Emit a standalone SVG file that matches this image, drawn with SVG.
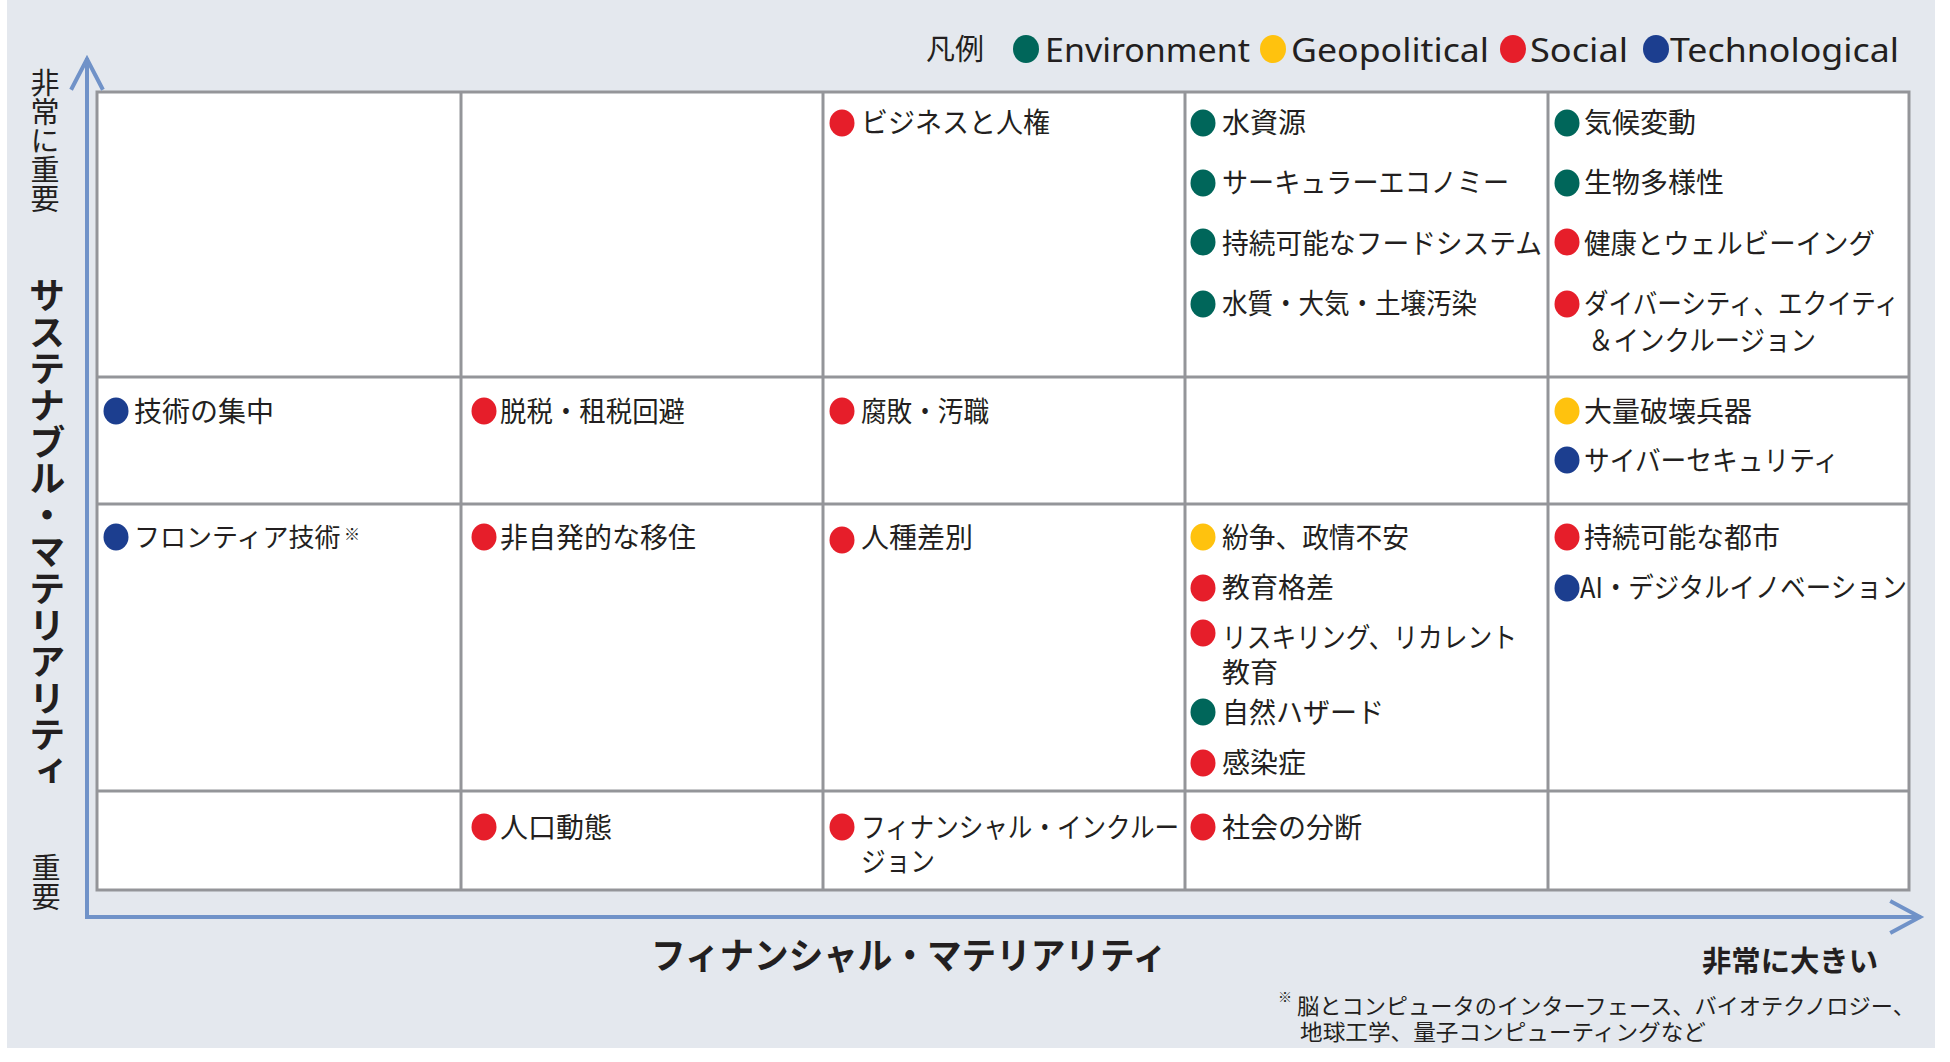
<svg xmlns="http://www.w3.org/2000/svg" width="1950" height="1062" viewBox="0 0 1950 1062">
<style>
text{font-family:"Noto Sans CJK JP","Noto Sans",sans-serif;fill:#231f20}
.it{font-size:28px}
.lat{font-family:"Noto Sans","Noto Sans CJK JP",sans-serif;font-size:33px}
.vt{writing-mode:vertical-rl}
.ax{font-size:29px}
.axb{font-size:36.6px;font-weight:700}
.fn{font-size:22px}
.grid{stroke:#949599;stroke-width:3;fill:none}
.axis{stroke:#7092c8;stroke-width:4;fill:none;stroke-linecap:square}
.E{fill:#00665a}.G{fill:#ffc20e}.S{fill:#e61e2a}.T{fill:#1c3e8f}
</style>
<rect x="7" y="0" width="1928" height="1048" fill="#e4e8ee"/>
<rect x="97" y="92" width="1812" height="798" fill="#ffffff"/>

<g id="legend">
<text x="926" y="60" style="font-size:29px">凡例</text>
<ellipse class="E" cx="1026" cy="49" rx="13" ry="14"/>
<text class="lat" x="1045" y="62" textLength="205" lengthAdjust="spacingAndGlyphs">Environment</text>
<ellipse class="G" cx="1273" cy="49" rx="13" ry="14"/>
<text class="lat" x="1291" y="62" textLength="198" lengthAdjust="spacingAndGlyphs">Geopolitical</text>
<ellipse class="S" cx="1513" cy="49" rx="13" ry="14"/>
<text class="lat" x="1530" y="62" textLength="98" lengthAdjust="spacingAndGlyphs">Social</text>
<ellipse class="T" cx="1656" cy="49" rx="13" ry="14"/>
<text class="lat" x="1670" y="62" textLength="229" lengthAdjust="spacingAndGlyphs">Technological</text>
</g>

<g id="grid">
<rect class="grid" x="97" y="92" width="1812" height="798"/>
<line class="grid" x1="461" y1="92" x2="461" y2="890"/>
<line class="grid" x1="823" y1="92" x2="823" y2="890"/>
<line class="grid" x1="1185" y1="92" x2="1185" y2="890"/>
<line class="grid" x1="1548" y1="92" x2="1548" y2="890"/>
<line class="grid" x1="97" y1="377" x2="1909" y2="377"/>
<line class="grid" x1="97" y1="504" x2="1909" y2="504"/>
<line class="grid" x1="97" y1="791" x2="1909" y2="791"/>
</g>

<g id="connectors">
<polyline class="axis" points="87,60 87,917 1919,917"/>
<polyline class="axis" points="72,88 87,59 102,88"/>
<polyline class="axis" points="1892,902 1920,917 1892,932"/>
</g>

<g id="axis-labels">
<text class="ax vt" x="45" y="68">非常に重要</text>
<text class="axb vt" x="47" y="277">サステナブル・マテリアリティ</text>
<text class="ax vt" x="46" y="853">重要</text>
<text class="axb" x="651" y="969" textLength="516" lengthAdjust="spacingAndGlyphs">フィナンシャル・マテリアリティ</text>
<text x="1702" y="972" style="font-size:29px;font-weight:700" textLength="176" lengthAdjust="spacingAndGlyphs">非常に大きい</text>
</g>

<g id="footnote">
<text x="1278" y="1002" style="font-size:14px">※</text>
<text class="fn"><tspan x="1297" y="1014" textLength="618" lengthAdjust="spacingAndGlyphs">脳とコンピュータのインターフェース、バイオテクノロジー、</tspan><tspan x="1300" y="1040" textLength="406" lengthAdjust="spacingAndGlyphs">地球工学、量子コンピューティングなど</tspan></text>
</g>

<g id="cell-r1c3">
<ellipse class="S" cx="842" cy="123" rx="12.5" ry="13.5"/>
<text class="it" x="861" y="133" textLength="189" lengthAdjust="spacingAndGlyphs">ビジネスと人権</text>
</g>
<g id="cell-r1c4">
<ellipse class="E" cx="1203" cy="123" rx="12.5" ry="13.5"/>
<text class="it" x="1222" y="133">水資源</text>
<ellipse class="E" cx="1203" cy="183" rx="12.5" ry="13.5"/>
<text class="it" x="1222" y="193" textLength="287" lengthAdjust="spacingAndGlyphs">サーキュラーエコノミー</text>
<ellipse class="E" cx="1203" cy="242" rx="12.5" ry="13.5"/>
<text class="it" x="1222" y="254" textLength="320" lengthAdjust="spacingAndGlyphs">持続可能なフードシステム</text>
<ellipse class="E" cx="1203" cy="304" rx="12.5" ry="13.5"/>
<text class="it" x="1222" y="314" textLength="255" lengthAdjust="spacingAndGlyphs">水質・大気・土壌汚染</text>
</g>
<g id="cell-r1c5">
<ellipse class="E" cx="1567" cy="123" rx="12.5" ry="13.5"/>
<text class="it" x="1584" y="133">気候変動</text>
<ellipse class="E" cx="1567" cy="183" rx="12.5" ry="13.5"/>
<text class="it" x="1584" y="193">生物多様性</text>
<ellipse class="S" cx="1567" cy="242" rx="12.5" ry="13.5"/>
<text class="it" x="1584" y="254" textLength="291" lengthAdjust="spacingAndGlyphs">健康とウェルビーイング</text>
<ellipse class="S" cx="1567" cy="304" rx="12.5" ry="13.5"/>
<text class="it"><tspan x="1584" y="314" textLength="315" lengthAdjust="spacingAndGlyphs">ダイバーシティ、エクイティ</tspan><tspan x="1588" y="351" textLength="228" lengthAdjust="spacingAndGlyphs">＆インクルージョン</tspan></text>
</g>

<g id="cell-r2c1">
<ellipse class="T" cx="116" cy="411" rx="12.5" ry="13.5"/>
<text class="it" x="134" y="422">技術の集中</text>
</g>
<g id="cell-r2c2">
<ellipse class="S" cx="484" cy="411" rx="12.5" ry="13.5"/>
<text class="it" x="500" y="422" textLength="185" lengthAdjust="spacingAndGlyphs">脱税・租税回避</text>
</g>
<g id="cell-r2c3">
<ellipse class="S" cx="842" cy="411" rx="12.5" ry="13.5"/>
<text class="it" x="861" y="422" textLength="128" lengthAdjust="spacingAndGlyphs">腐敗・汚職</text>
</g>
<g id="cell-r2c5">
<ellipse class="G" cx="1567" cy="411" rx="12.5" ry="13.5"/>
<text class="it" x="1584" y="422">大量破壊兵器</text>
<ellipse class="T" cx="1567" cy="460" rx="12.5" ry="13.5"/>
<text class="it" x="1584" y="471" textLength="255" lengthAdjust="spacingAndGlyphs">サイバーセキュリティ</text>
</g>

<g id="cell-r3c1">
<ellipse class="T" cx="116" cy="537" rx="12.5" ry="13.5"/>
<text x="134" y="547" style="font-size:26px">フロンティア技術</text>
<text x="344" y="540" style="font-size:16px">※</text>
</g>
<g id="cell-r3c2">
<ellipse class="S" cx="484" cy="537" rx="12.5" ry="13.5"/>
<text class="it" x="500" y="548">非自発的な移住</text>
</g>
<g id="cell-r3c3">
<ellipse class="S" cx="842" cy="540" rx="12.5" ry="13.5"/>
<text class="it" x="861" y="548">人種差別</text>
</g>
<g id="cell-r3c4">
<ellipse class="G" cx="1203" cy="537" rx="12.5" ry="13.5"/>
<text class="it" x="1222" y="548" textLength="187" lengthAdjust="spacingAndGlyphs">紛争、政情不安</text>
<ellipse class="S" cx="1203" cy="588" rx="12.5" ry="13.5"/>
<text class="it" x="1222" y="598">教育格差</text>
<ellipse class="S" cx="1203" cy="633" rx="12.5" ry="13.5"/>
<text class="it"><tspan x="1222" y="648" textLength="295" lengthAdjust="spacingAndGlyphs">リスキリング、リカレント</tspan><tspan x="1222" y="683">教育</tspan></text>
<ellipse class="E" cx="1203" cy="712" rx="12.5" ry="13.5"/>
<text class="it" x="1222" y="723" textLength="162" lengthAdjust="spacingAndGlyphs">自然ハザード</text>
<ellipse class="S" cx="1203" cy="763" rx="12.5" ry="13.5"/>
<text class="it" x="1222" y="773">感染症</text>
</g>
<g id="cell-r3c5">
<ellipse class="S" cx="1567" cy="537" rx="12.5" ry="13.5"/>
<text class="it" x="1584" y="548">持続可能な都市</text>
<ellipse class="T" cx="1567" cy="588" rx="12.5" ry="13.5"/>
<text class="it" x="1580" y="598" textLength="327" lengthAdjust="spacingAndGlyphs">AI・デジタルイノベーション</text>
</g>

<g id="cell-r4c2">
<ellipse class="S" cx="484" cy="827" rx="12.5" ry="13.5"/>
<text class="it" x="500" y="838">人口動態</text>
</g>
<g id="cell-r4c3">
<ellipse class="S" cx="842" cy="827" rx="12.5" ry="13.5"/>
<text class="it"><tspan x="861" y="838" textLength="318" lengthAdjust="spacingAndGlyphs">フィナンシャル・インクルー</tspan><tspan x="861" y="872" textLength="74" lengthAdjust="spacingAndGlyphs">ジョン</tspan></text>
</g>
<g id="cell-r4c4">
<ellipse class="S" cx="1203" cy="827" rx="12.5" ry="13.5"/>
<text class="it" x="1222" y="838">社会の分断</text>
</g>
</svg>
